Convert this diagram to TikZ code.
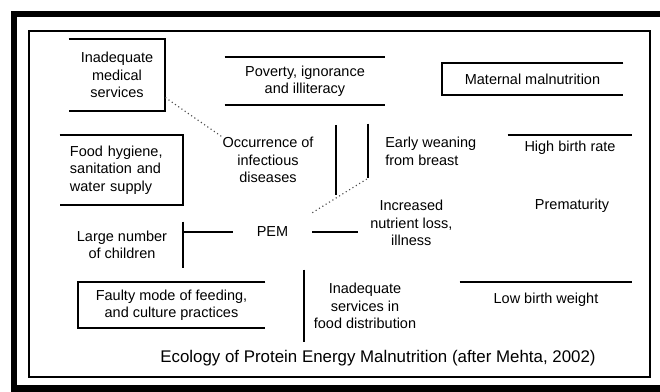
\documentclass[tikz,border=0pt]{standalone}
\usepackage{fontspec}
\setmainfont{Liberation Sans}
\usepackage{tikz}
\usetikzlibrary{positioning, calc}

\begin{document}
\begin{tikzpicture}[x=0.025cm, y=-0.025cm,
        factor/.style={
                inner sep=0pt,
                align=center,
                font=\fontsize{10.3}{12.4}\selectfont,
        },
        edge/.style={line width=1.6pt},
        link/.style={dotted, line width=0.8pt, black!70},
        ]
            \useasboundingbox (0,0) rectangle (660,392);
            % frames
            \draw[line width=0.17cm] (14,14) rectangle (680,388.5);
            \draw[line width=0.05cm] (29,31) rectangle (650,377);

            % factors
            \node[factor, minimum width=2.4cm, minimum height=1.8cm] (medical) at (117,75) {Inadequate\\medical\\services};
            \node[factor, minimum width=4cm, minimum height=1.2cm] (poverty) at (305,81) {Poverty, ignorance\\and illiteracy};
            \node[factor, minimum width=4.525cm, minimum height=0.8cm] (maternal) at (532.5,79) {Maternal malnutrition};
            \node[factor, align=left, text width=2.575cm, inner xsep=0.25cm, minimum height=1.75cm] (hygiene) at (121.5,170) {Food hygiene,\\sanitation and\\water supply};
            \node[factor] (infect) at (268,160) {Occurrence of\\infectious\\diseases};
            \node[factor, align=left, anchor=west, inner xsep=0.425cm, minimum height=1.325cm] (weaning) at (368,151.5) {Early weaning\\from breast};
            \node[factor, minimum width=3.1cm, minimum height=0.65cm] (highbirth) at (570,148) {High birth rate};
            \node[factor] (premature) at (572,206) {Prematurity};
            \node[factor, anchor=west, inner xsep=0.3cm] (increased) at (358,223) {Increased\\nutrient loss,\\illness};
            \node[factor, minimum width=1.975cm, minimum height=0.95cm] (pem) at (272.5,232) {PEM};
            \node[factor, minimum width=3.05cm, minimum height=1.15cm] (children) at (122,245) {Large number\\of children};
            \node[factor, minimum width=4.675cm, minimum height=1.15cm] (faulty) at (171.5,305) {Faulty mode of feeding,\\and culture practices};
            \node[factor, minimum width=3.05cm, minimum height=1.8cm] (fooddist) at (365,306) {Inadequate\\services in\\food distribution};
            \node[factor, minimum width=4.3cm, minimum height=0.9cm] (lbw) at (546,300) {Low birth weight};
            \node[factor, font=\fontsize{12}{14}\selectfont] (caption) at (378,358) {Ecology of Protein Energy Malnutrition (after Mehta, 2002)};

            % box edges
            \draw[edge] (medical.north west) -- (medical.north east) -- (medical.south east) -- (medical.south west);
            \draw[edge] (poverty.north west) -- (poverty.north east);
            \draw[edge] (poverty.south west) -- (poverty.south east);
            \draw[edge] (maternal.north east) -- (maternal.north west) -- (maternal.south west) -- (maternal.south east);
            \draw[edge] (hygiene.north west) -- (hygiene.north east) -- (hygiene.south east) -- (hygiene.south west);
            \draw[edge] (faulty.north east) -- (faulty.north west) -- (faulty.south west) -- (faulty.south east);
            \draw[edge] (highbirth.north west) -- (highbirth.north east);
            \draw[edge] (lbw.north west) -- (lbw.north east);

            % links
            \coordinate (split top) at (336,125);
            \coordinate (split bottom) at (336,195);
            \draw[edge] (split top) -- (split bottom);
            \draw[edge] ($(weaning.north west)+(0,-1)$) -- (weaning.south west);
            \draw[link] (medical.-25) -- (infect.north west);
            \draw[link] (pem.north east) -- (weaning.south west);
            \draw[edge] (children.north east) -- (children.south east);
            \draw[edge] (pem.west) -- (pem.west -| children.east);
            \draw[edge] (pem.east) -- (pem.east -| increased.west);
            \draw[edge] (fooddist.north west) -- (fooddist.south west);
        \end{tikzpicture}
\end{document}
